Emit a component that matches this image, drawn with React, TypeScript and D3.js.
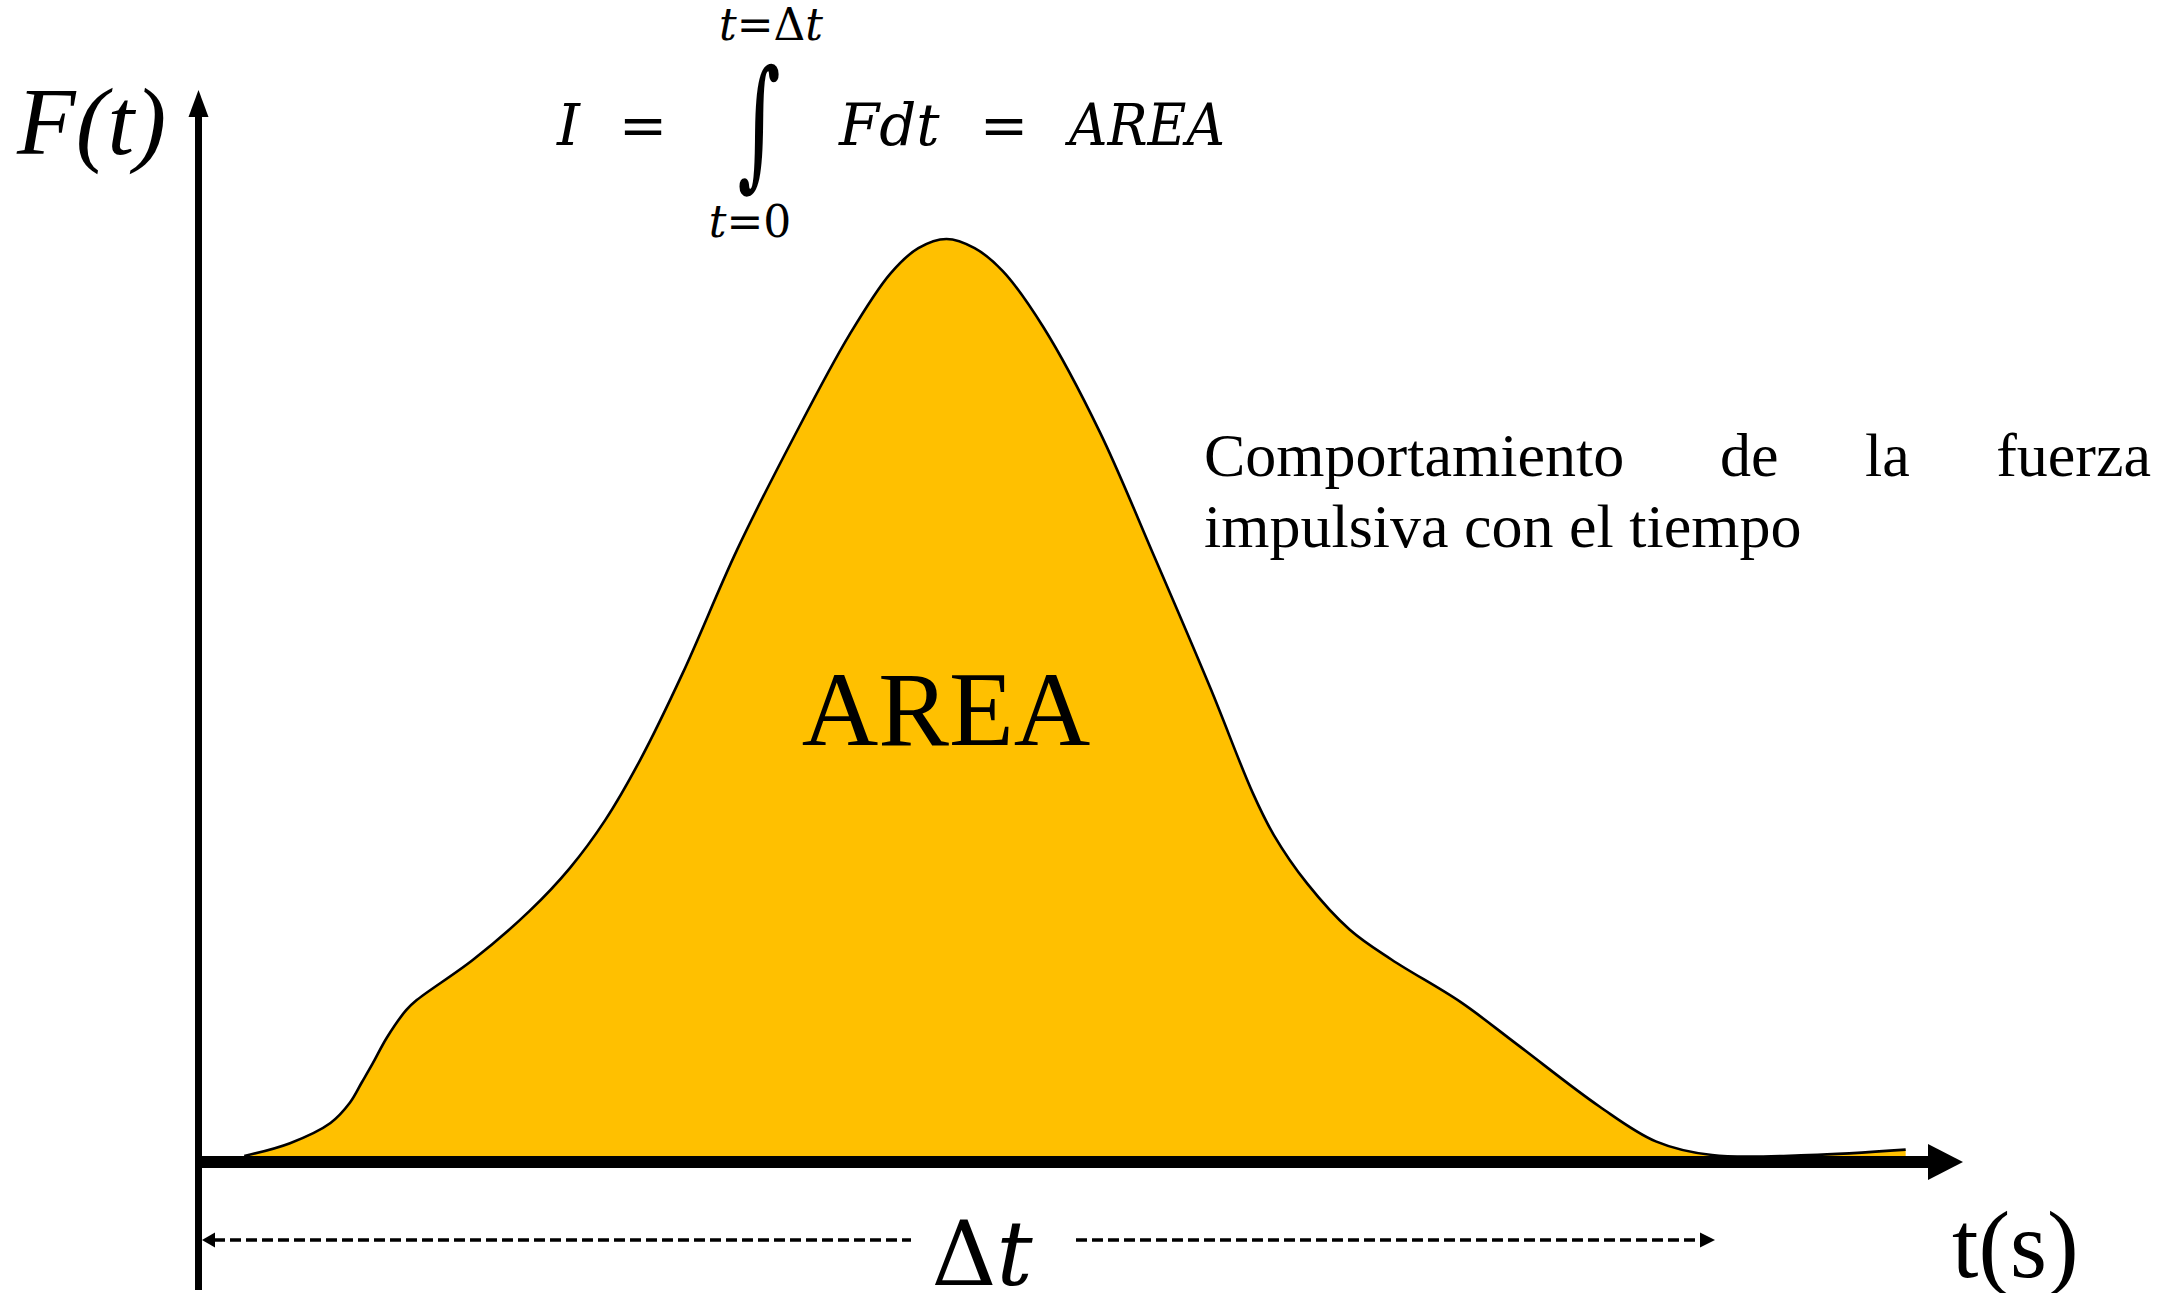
import React from "react";
import * as d3 from "d3";

// Curve samples (time in arbitrary units along the axis, force as % of peak)
const TIME = [2.4, 5.0, 7.3, 8.4, 9.1, 9.7, 10.5, 11.6, 12.2, 15.4, 18.6, 20.9, 22.9, 24.9, 27.3, 30.4, 33.6, 36.8, 39.1, 40.7, 42.3, 43.9, 45.5, 47.8, 51.0, 54.1, 57.3, 59.7, 60.9, 62.8, 65.2, 67.6, 71.5, 74.7, 79.4, 82.6, 85.8, 91.3, 96.8];
const FORCE = [0, 1.4, 3.6, 5.8, 8.1, 10.1, 12.9, 15.9, 17.0, 21.4, 26.7, 31.4, 36.6, 43.2, 52.6, 66.1, 78.3, 89.6, 96.2, 99.0, 100, 99.0, 96.5, 90.4, 79.0, 65.4, 51.0, 39.6, 35.0, 29.7, 24.7, 21.4, 16.8, 12.2, 5.4, 1.6, 0.1, 0.1, 0.7];

const Y_LABEL = "F(t)";
const X_LABEL = "t(s)";
const AREA_LABEL = "AREA";
const DESC_LINE1 = ["Comportamiento", "de", "la", "fuerza"];
const DESC_LINE2 = "impulsiva con el tiempo";

const W = 2182;
const H = 1293;

export default function App() {
  React.useEffect(() => {
    document.body.style.margin = "0";
  }, []);

  const x = d3.scaleLinear().domain([0, 100]).range([202, 1962]);
  const y = d3.scaleLinear().domain([0, 100]).range([1156, 239]);

  const pts: [number, number][] = TIME.map((t, i) => [t, FORCE[i]]);
  const area = d3
    .area<[number, number]>()
    .x((d) => x(d[0]))
    .y0(y(0))
    .y1((d) => Math.min(y(0), y(d[1])))
    .curve(d3.curveCatmullRom.alpha(0.5));
  const line = d3
    .line<[number, number]>()
    .x((d) => x(d[0]))
    .y((d) => Math.min(y(0), y(d[1])))
    .curve(d3.curveCatmullRom.alpha(0.5));

  const axX = 198.5;
  const axY = 1162;
  const serif = "'Liberation Serif', 'Times New Roman', serif";
  const math = "'DejaVu Serif', 'Liberation Serif', serif";

  const dashY = 1240;

  return (
    <svg
      width={W}
      height={H}
      viewBox={`0 0 ${W} ${H}`}
      style={{ position: "absolute", left: 0, top: 0, background: "#fff" }}
    >
      <rect x={0} y={0} width={W} height={H} fill="#fff" />
      {/* area */}
      <path d={area(pts) || ""} fill="#FFC000" stroke="none" />
      <path d={line(pts) || ""} fill="none" stroke="#000" strokeWidth={2.6} />

      {/* vertical axis */}
      <line x1={axX} y1={112} x2={axX} y2={1290} stroke="#000" strokeWidth={7} />
      <polygon points={`${axX},90 ${axX - 10},117 ${axX + 10},117`} fill="#000" />

      {/* horizontal axis */}
      <line x1={axX - 3.5} y1={axY} x2={1932} y2={axY} stroke="#000" strokeWidth={12} />
      <polygon points={`1928,1144 1963,${axY} 1928,1180`} fill="#000" />

      {/* dashed delta-t arrows */}
      <line x1={214} y1={dashY} x2={911} y2={dashY} stroke="#000" strokeWidth={3.5} strokeDasharray="11 5" />
      <polygon points={`202,${dashY} 215,${dashY - 7.5} 215,${dashY + 7.5}`} fill="#000" />
      <line x1={1076} y1={dashY} x2={1701} y2={dashY} stroke="#000" strokeWidth={3.5} strokeDasharray="11 5" />
      <polygon points={`1715,${dashY} 1700,${dashY - 7.5} 1700,${dashY + 7.5}`} fill="#000" />

      {/* Δt */}
      <text x={982} y={1285} textAnchor="middle" fontFamily={math} fontSize={90} fill="#000">
        Δ<tspan fontStyle="italic">t</tspan>
      </text>

      {/* axis labels */}
      <text x={17} y={154} fontFamily={serif} fontStyle="italic" fontSize={96} fill="#000">
        {Y_LABEL}
      </text>
      <text x={1952} y={1277} fontFamily={serif} fontSize={95} fill="#000">
        {X_LABEL}
      </text>

      {/* formula */}
      <g fontFamily={math} fill="#000">
        <text x={557} y={145} fontSize={58} fontStyle="italic">I</text>
        <text x={643} y={145} fontSize={58} textAnchor="middle">=</text>
        <text transform="translate(759,171) scale(0.7,1.2)" x={0} y={0} fontSize={118} textAnchor="middle" fontStyle="italic">∫</text>
        <text x={771} y={40} fontSize={44} textAnchor="middle">
          <tspan fontStyle="italic">t</tspan>=Δ<tspan fontStyle="italic">t</tspan>
        </text>
        <text x={750} y={237} fontSize={44} textAnchor="middle">
          <tspan fontStyle="italic">t</tspan>=0
        </text>
        <text x={839} y={145} fontSize={58} fontStyle="italic">Fdt</text>
        <text x={1004} y={145} fontSize={58} textAnchor="middle">=</text>
        <text x={1069} y={145} fontSize={58} fontStyle="italic" textLength={156} lengthAdjust="spacingAndGlyphs">AREA</text>
      </g>

      {/* AREA label */}
      <text x={946} y={745} textAnchor="middle" fontFamily={serif} fontSize={106} fill="#000">
        {AREA_LABEL}
      </text>

      {/* description */}
      <g fontFamily={serif} fontSize={62} fill="#000">
        <text x={1204} y={476}>{DESC_LINE1[0]}</text>
        <text x={1720} y={476}>{DESC_LINE1[1]}</text>
        <text x={1865} y={476}>{DESC_LINE1[2]}</text>
        <text x={2151} y={476} textAnchor="end">{DESC_LINE1[3]}</text>
        <text x={1204} y={547}>{DESC_LINE2}</text>
      </g>
    </svg>
  );
}
